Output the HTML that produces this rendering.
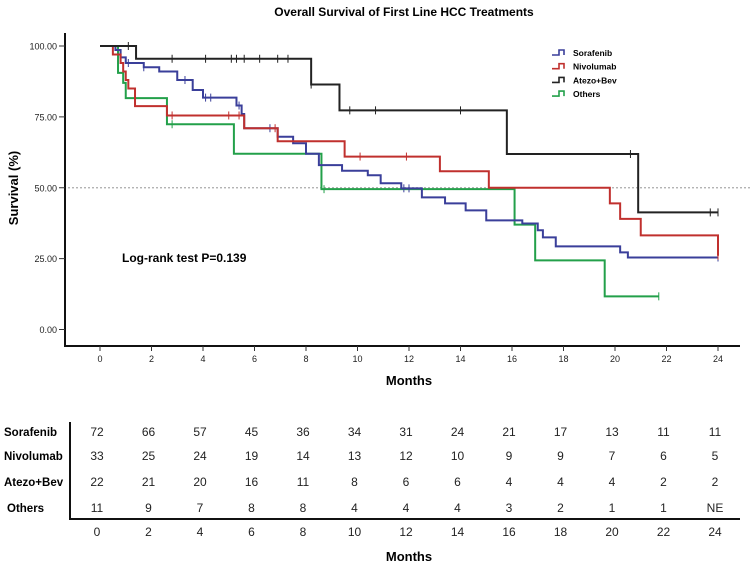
<!DOCTYPE html>
<html><head><meta charset="utf-8"><style>
body{margin:0;background:#fff;width:753px;height:565px;overflow:hidden;font-family:"Liberation Sans",Arial,sans-serif}
svg text{font-family:"Liberation Sans",Arial,sans-serif}
</style></head><body>
<svg id="c" width="753" height="565"></svg>
<script>
const groups=["Sorafenib","Nivolumab","Atezo+Bev","Others"];
const colors=["#3a3f9a","#c0302e","#222222","#23a04a"];
// step survival data: [time, survival after step]
const sorafenibT=[0,0.6,0.8,1.0,1.7,2.3,3.0,3.6,4.0,5.3,5.5,5.6,6.9,7.5,8.0,8.5,9.4,10.4,10.9,11.7,12.5,13.4,14.2,15.0,16.4,17.0,17.2,17.7,20.2,20.5,24];
const sorafenibS=[100,98.6,96,94,92.5,91,88,84.5,81.8,79,76,71,68,65.7,62,58,56,54.4,51.6,49.8,46.6,44.5,42,38.5,37.4,35,32.5,29.3,27.2,25.4,25.4];
const nivolumabT=[0,0.5,0.8,0.9,1.0,1.1,1.36,2.6,5.6,6.9,9.5,13.2,15.1,19.8,20.2,21.0,24,24];
const nivolumabS=[100,97,94,91,88,85,78.8,75.5,71,66.4,61,55.8,50,44.5,39,33.2,33.2,26];
const atezoT=[0,1.4,8.2,9.3,15.8,20.9,24];
const atezoS=[100,95.5,86.4,77.3,61.9,41.3,41.3];
const othersT=[0,0.7,0.9,1.0,2.6,5.2,8.6,16.1,16.9,19.6,21.7];
const othersS=[100,90.5,87,81.6,72.4,62,49.5,37,24.4,11.7,11.7];
const censorT=[[1.1,1.7,3.3,4.1,4.3,5.4,6.6,11.8,12.0,24],[2.8,5.0,5.4,6.8,10.1,11.9,24],[1.1,2.8,4.1,5.1,5.3,5.6,6.2,6.9,7.3,8.2,9.7,10.7,14.0,20.6,23.7,24],[2.8,8.7,21.7]];
const riskRows=[[72,66,57,45,36,34,31,24,21,17,13,11,11],[33,25,24,19,14,13,12,10,9,9,7,6,5],[22,21,20,16,11,8,6,6,4,4,4,2,2],[11,9,7,8,8,4,4,4,3,2,1,1,"NE"]];
const xTicks=[0,2,4,6,8,10,12,14,16,18,20,22,24];
const yTicks=[0,25,50,75,100];

const NS="http://www.w3.org/2000/svg",svg=document.getElementById('c');
const X=t=>100+t*25.75, Y=s=>329.5-s*2.835, TX=t=>97+t*25.75;
function el(tag,attrs,parent){const e=document.createElementNS(NS,tag);for(const k in attrs)e.setAttribute(k,attrs[k]);(parent||svg).appendChild(e);return e;}
function txt(s,attrs){const e=el('text',attrs);e.textContent=s;return e;}

let t=txt("Overall Survival of First Line HCC Treatments",{x:404,y:16,"text-anchor":"middle","font-size":12,"font-weight":"bold"});

let a=el('path',{d:"M65,33V346H740",fill:"none",stroke:"#111","stroke-width":2});

yTicks.forEach(v=>{
  const g=el('g',{});
  
  el('line',{x1:59,x2:65,y1:Y(v),y2:Y(v),stroke:"#333"},g);
  const l=el('text',{x:57,y:Y(v)+3.5,"text-anchor":"end","font-size":9,fill:"#222"},g);l.textContent=v.toFixed(2);
});
xTicks.forEach(v=>{
  const g=el('g',{});
  
  el('line',{x1:X(v),x2:X(v),y1:346,y2:351,stroke:"#333"},g);
  const l=el('text',{x:X(v),y:362,"text-anchor":"middle","font-size":9,fill:"#222"},g);l.textContent=v;
});
t=txt("Survival (%)",{transform:"translate(18,188) rotate(-90)","text-anchor":"middle","font-size":13,"font-weight":"bold"});

t=txt("Months",{x:409,y:385,"text-anchor":"middle","font-size":13,"font-weight":"bold"});

let rl=el('line',{x1:68,x2:752,y1:Y(50),y2:Y(50),stroke:"#aaa","stroke-dasharray":"2,2","stroke-width":1.3});

t=txt("Log-rank test P=0.139",{x:122,y:262,"font-size":12,"font-weight":"bold"});


const series=[[sorafenibT,sorafenibS],[nivolumabT,nivolumabS],[atezoT,atezoS],[othersT,othersS]];
function survAt(T,S,x){let s=S[0];for(let i=0;i<T.length;i++){if(T[i]<=x)s=S[i];}return s;}
[3,0,1,2].forEach(i=>{
  const [T,S]=series[i];
  let d="M"+X(T[0])+","+Y(S[0]);
  for(let k=1;k<T.length;k++){d+="H"+X(T[k])+"V"+Y(S[k]);}
  const p=el('path',{d:d,fill:"none",stroke:colors[i],"stroke-width":2});
  
  
  censorT[i].forEach(c=>{
    const y=Y(survAt(T,S,c));
    const m=el('line',{x1:X(c),x2:X(c),y1:y-4,y2:y+4,stroke:colors[i],"stroke-width":1});
    
    
  });
});
groups.forEach((g,i)=>{
  const y=53+i*13.7;
  const lg=el('g',{});
  
  
  el('path',{d:`M552,${y+2}h7v-5h5v5`,fill:"none",stroke:colors[i],"stroke-width":1.6},lg);
  const l=el('text',{x:573,y:y+3,"font-size":8.5,"font-weight":"bold"},lg);l.textContent=g;
});
// risk table
let tb=el('path',{d:"M70,422V519H740",fill:"none",stroke:"#111","stroke-width":2});

const rowY=[436,460,486,512];
groups.forEach((g,i)=>{
  const l=txt(g,{x:i==3?7:4,y:rowY[i],"font-size":11.5,"font-weight":"bold"});
  
  riskRows[i].forEach((v,k)=>{
    const c=txt(v,{x:TX(xTicks[k]),y:rowY[i],"text-anchor":"middle","font-size":12,fill:"#222"});
    
  });
});
xTicks.forEach(v=>{
  const c=txt(v,{x:TX(v),y:536,"text-anchor":"middle","font-size":12,fill:"#222"});
  
});
t=txt("Months",{x:409,y:561,"text-anchor":"middle","font-size":13,"font-weight":"bold"});

</script>
</body></html>
